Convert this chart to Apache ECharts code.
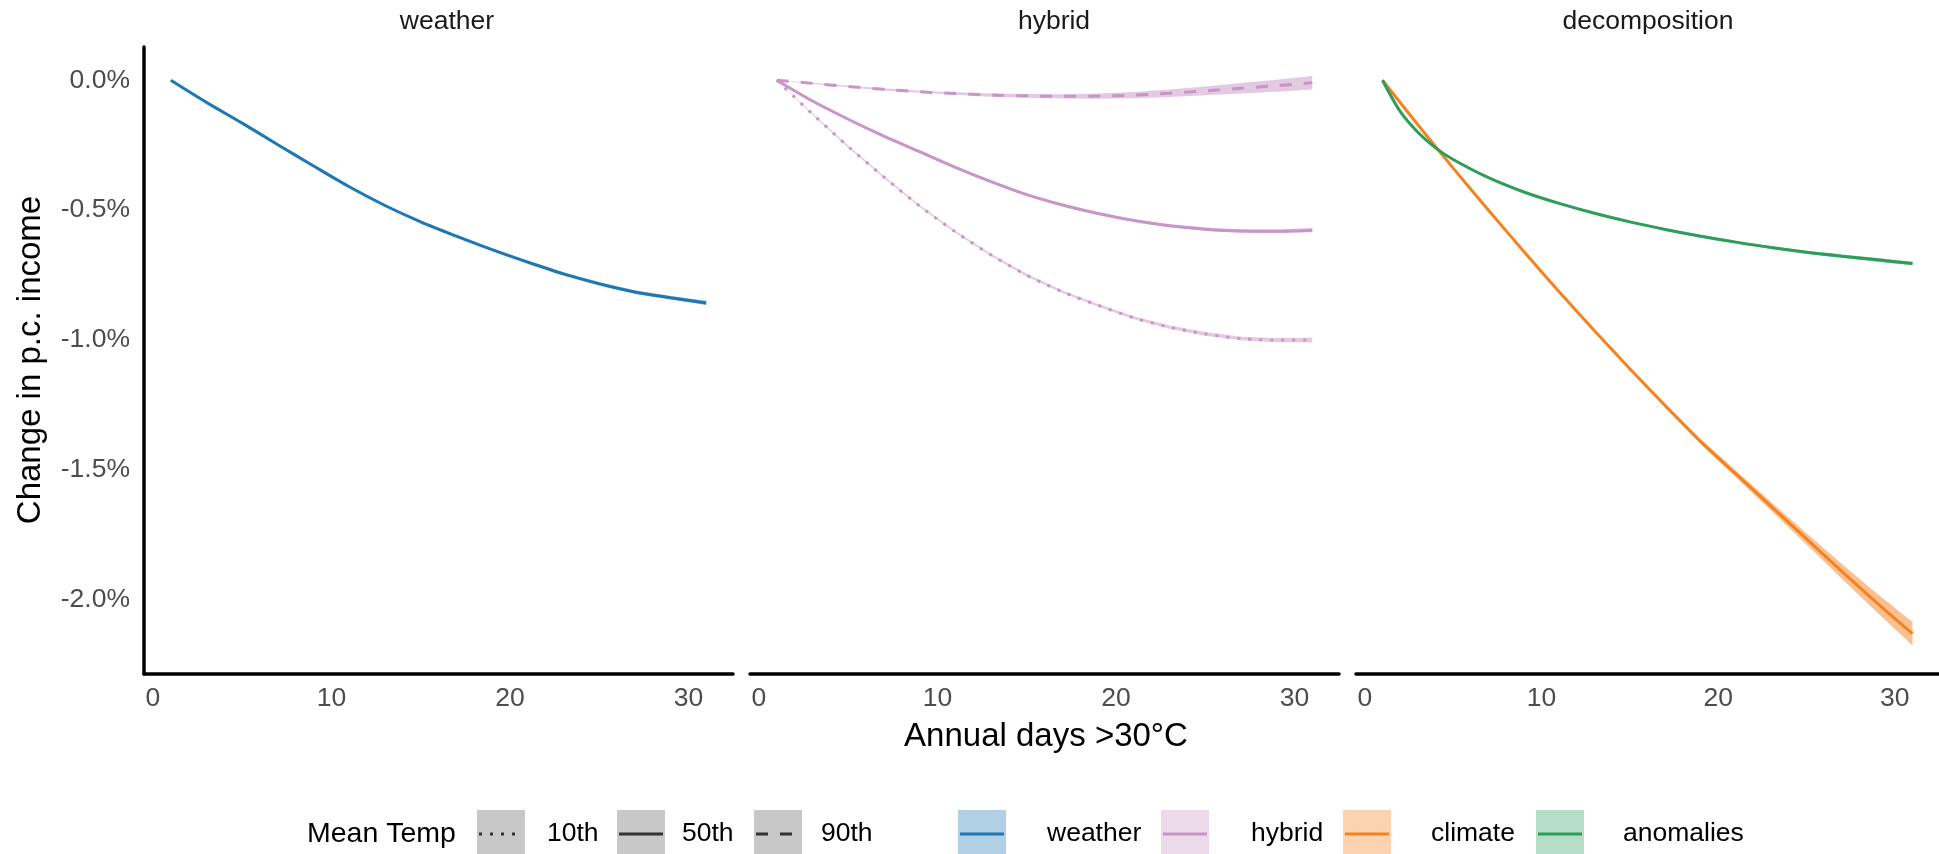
<!DOCTYPE html>
<html><head><meta charset="utf-8">
<script src="https://cdn.jsdelivr.net/npm/echarts@6/dist/echarts.min.js"></script>
<style>html,body{margin:0;padding:0;background:#fff}#c{width:1939px;height:854px}</style>
</head><body><div id="c"></div>
<script>
// ---------- data (values in % change) ----------
const days = [1, 3, 5, 7, 9, 11, 13, 15, 17, 19, 21, 23, 25, 27, 29, 31];
const anomalyDays = [1, 2, 3, 4, 5, 7, 9, 11, 13, 15, 17, 19, 21, 23, 25, 27, 29, 31];
const panelTitles = ['weather', 'hybrid', 'decomposition'];
const xTicks = [0, 10, 20, 30];
const yTicks = [0, -0.5, -1.0, -1.5, -2.0];

const weatherMid   = [0, -0.085, -0.165, -0.248, -0.33, -0.41, -0.482, -0.545, -0.6, -0.652, -0.7, -0.745, -0.783, -0.815, -0.837, -0.857];
const weatherBand  = [0, 0.003, 0.004, 0.004, 0.004, 0.004, 0.004, 0.004, 0.005, 0.005, 0.005, 0.006, 0.006, 0.007, 0.007, 0.008];

const hybrid10     = [0, -0.13, -0.255, -0.372, -0.484, -0.583, -0.672, -0.75, -0.814, -0.866, -0.914, -0.95, -0.976, -0.994, -1.0, -1.0];
const hybrid10Band = [0, 0.003, 0.004, 0.004, 0.004, 0.004, 0.004, 0.005, 0.005, 0.005, 0.006, 0.006, 0.007, 0.007, 0.008, 0.009];
const hybrid50     = [0, -0.08, -0.15, -0.215, -0.275, -0.335, -0.39, -0.44, -0.48, -0.513, -0.54, -0.56, -0.573, -0.58, -0.581, -0.577];
const hybrid50Band = [0, 0.003, 0.003, 0.004, 0.004, 0.004, 0.004, 0.004, 0.005, 0.005, 0.005, 0.006, 0.006, 0.007, 0.007, 0.008];
const hybrid90     = [0, -0.012, -0.024, -0.035, -0.044, -0.051, -0.057, -0.06, -0.062, -0.061, -0.057, -0.05, -0.041, -0.031, -0.021, -0.01];
const hybrid90Band = [0, 0.002, 0.003, 0.004, 0.004, 0.005, 0.006, 0.007, 0.008, 0.01, 0.012, 0.014, 0.017, 0.02, 0.023, 0.026];

const climateMid    = [0, -0.171, -0.338, -0.5, -0.659, -0.814, -0.964, -1.11, -1.252, -1.39, -1.515, -1.64, -1.765, -1.89, -2.012, -2.13];
const climateBand   = [0, 0.002, 0.002, 0.003, 0.003, 0.004, 0.004, 0.005, 0.007, 0.01, 0.013, 0.017, 0.022, 0.028, 0.036, 0.045];
const anomaliesMid  = [0, -0.12, -0.2, -0.26, -0.305, -0.375, -0.43, -0.474, -0.512, -0.545, -0.574, -0.6, -0.623, -0.644, -0.662, -0.677, -0.691, -0.705];
const anomaliesBand = [0, 0.002, 0.003, 0.003, 0.003, 0.003, 0.003, 0.004, 0.004, 0.004, 0.004, 0.005, 0.005, 0.005, 0.006, 0.006, 0.007, 0.007];

const linetypeLabels = ['10th', '50th', '90th'];
const colourLabels = ['weather', 'hybrid', 'climate', 'anomalies'];

// ---------- styling ----------
const FONT = '"Liberation Sans", Arial, Helvetica, sans-serif';
const COL = { weather: '#1f78b4', hybrid: '#c994c7', climate: '#f58220', anomalies: '#2e9d5a' };
const DOTTED = [3, 8], DASHED = [12, 12];
const LW = 3;
const Y_MIN = -2.285, Y_MAX = 0.128;

const grids = [144, 750, 1356].map(l => ({ left: l, top: 47, width: 589, height: 627 }));

const xAxes = grids.map((g, i) => ({
  gridIndex: i, type: 'value', min: -0.5, max: 32.5,
  axisLine: { show: true, onZero: false, lineStyle: { color: '#000', width: 3.5 } },
  axisTick: { show: false }, splitLine: { show: false },
  axisLabel: { customValues: xTicks, margin: 11, fontSize: 26.5, color: '#4d4d4d', fontFamily: FONT }
}));
const yAxes = grids.map((g, i) => ({
  gridIndex: i, type: 'value', min: Y_MIN, max: Y_MAX, show: i === 0,
  axisLine: { show: true, onZero: false, lineStyle: { color: '#000', width: 3.5 } },
  axisTick: { show: false }, splitLine: { show: false },
  axisLabel: { customValues: yTicks, margin: 14, fontSize: 26.5, color: '#4d4d4d', fontFamily: FONT,
    formatter: v => (Math.abs(v) < 1e-9 ? 0 : v).toFixed(1) + '%' }
}));

const series = [];
function addCurve(pi, xs, mid, band, color, dash) {
  series.push({
    type: 'custom', xAxisIndex: pi, yAxisIndex: pi, silent: true, z: 1, animation: false,
    data: [[xs[0], mid[0]]],
    renderItem: (params, api) => {
      const pts = [];
      for (let i = 0; i < xs.length; i++) pts.push(api.coord([xs[i], mid[i] + band[i]]));
      for (let i = xs.length - 1; i >= 0; i--) pts.push(api.coord([xs[i], mid[i] - band[i]]));
      return { type: 'polygon', shape: { points: pts }, style: { fill: color, opacity: 0.5 } };
    }
  });
  series.push({
    type: 'line', xAxisIndex: pi, yAxisIndex: pi, silent: true, z: 2, animation: false,
    showSymbol: false, symbol: 'none', smooth: 0.3,
    data: xs.map((d, i) => [d, mid[i]]),
    lineStyle: { color: color, width: LW, type: dash || 'solid', cap: 'butt' }
  });
}
addCurve(0, days, weatherMid, weatherBand, COL.weather);
addCurve(1, days, hybrid10, hybrid10Band, COL.hybrid, DOTTED);
addCurve(1, days, hybrid50, hybrid50Band, COL.hybrid);
addCurve(1, days, hybrid90, hybrid90Band, COL.hybrid, DASHED);
addCurve(2, days, climateMid, climateBand, COL.climate);
addCurve(2, anomalyDays, anomaliesMid, anomaliesBand, COL.anomalies);

// ---------- text + legend graphics ----------
const graphic = [];
const stripX = [447, 1054, 1648];
panelTitles.forEach((t, i) => graphic.push({ type: 'text', x: stripX[i], y: 22,
  style: { text: t, font: '26.5px ' + FONT, fill: '#1a1a1a', textAlign: 'center', textVerticalAlign: 'middle' } }));
graphic.push({ type: 'text', x: 31, y: 360, rotation: Math.PI / 2,
  style: { text: 'Change in p.c. income', font: '33px ' + FONT, fill: '#000', textAlign: 'center', textVerticalAlign: 'middle' } });
graphic.push({ type: 'text', x: 1046, y: 737,
  style: { text: 'Annual days >30°C', font: '33px ' + FONT, fill: '#000', textAlign: 'center', textVerticalAlign: 'middle' } });

const LY = 834, KS = 48;
graphic.push({ type: 'text', x: 307, y: LY,
  style: { text: 'Mean Temp', font: '28.5px ' + FONT, fill: '#000', textAlign: 'left', textVerticalAlign: 'middle' } });
function label(x, t) {
  graphic.push({ type: 'text', x: x, y: LY,
    style: { text: t, font: '26.5px ' + FONT, fill: '#000', textAlign: 'left', textVerticalAlign: 'middle' } });
}
const ltKeys = [477, 617, 754], ltText = [547, 682, 821], ltDash = [DOTTED, null, DASHED];
linetypeLabels.forEach((t, i) => {
  graphic.push({ type: 'rect', shape: { x: ltKeys[i], y: LY - KS / 2, width: KS, height: KS }, style: { fill: '#c8c8c8' } });
  graphic.push({ type: 'line', shape: { x1: ltKeys[i] + 2, y1: LY, x2: ltKeys[i] + KS - 2, y2: LY },
    style: { stroke: '#333', lineWidth: LW, lineDash: ltDash[i], lineCap: 'butt' } });
  label(ltText[i], t);
});
const cKeys = [958, 1161, 1343, 1536], cText = [1047, 1251, 1431, 1623];
const cCols = [COL.weather, COL.hybrid, COL.climate, COL.anomalies];
colourLabels.forEach((t, i) => {
  graphic.push({ type: 'rect', shape: { x: cKeys[i], y: LY - KS / 2, width: KS, height: KS }, style: { fill: cCols[i], opacity: 0.35 } });
  graphic.push({ type: 'line', shape: { x1: cKeys[i] + 2, y1: LY, x2: cKeys[i] + KS - 2, y2: LY },
    style: { stroke: cCols[i], lineWidth: LW } });
  label(cText[i], t);
});

const chart = echarts.init(document.getElementById('c'));
chart.setOption({
  animation: false, backgroundColor: '#fff',
  grid: grids, xAxis: xAxes, yAxis: yAxes, series: series, graphic: graphic
});
</script></body></html>
